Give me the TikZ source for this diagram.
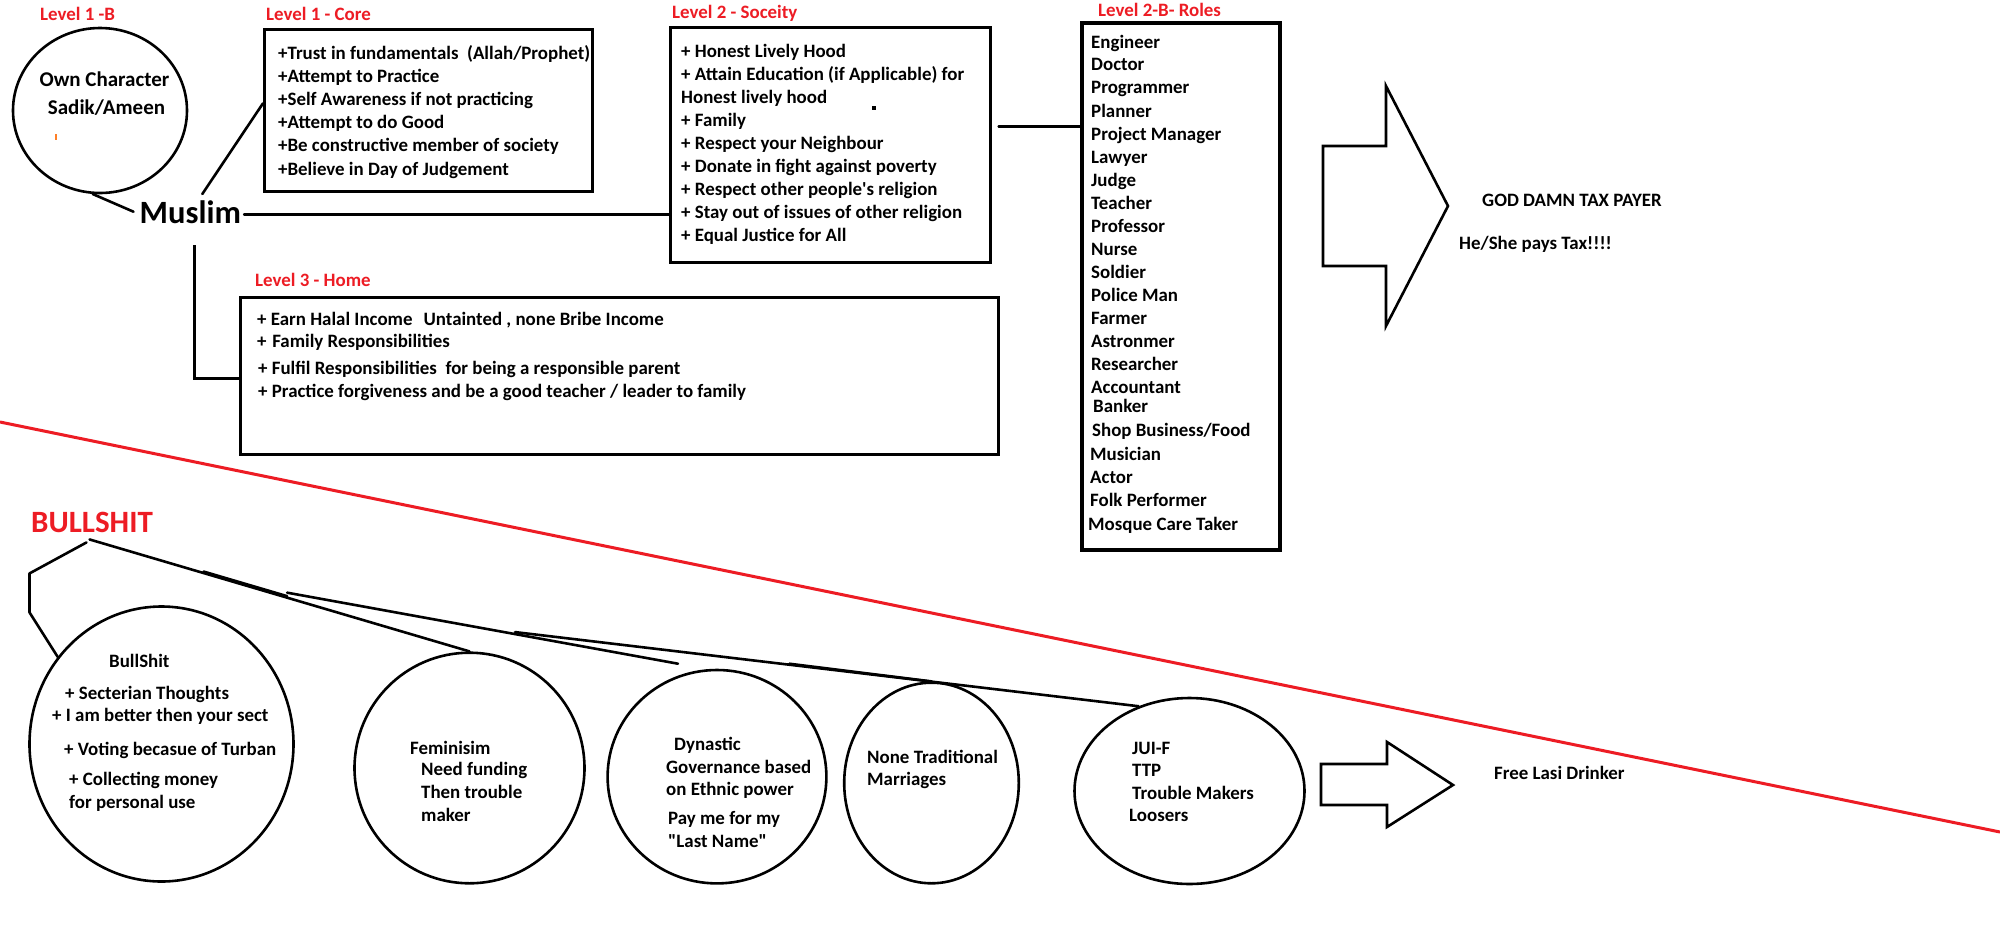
\documentclass[tikz,border=0pt]{standalone}
\usepackage{fontspec}
\setmainfont{Carlito}[Ligatures=TeXOff]
\usetikzlibrary{shapes.geometric,calc}
\definecolor{pred}{RGB}{237,28,36}
\definecolor{porange}{RGB}{255,127,39}
\newcommand\myfs{\fontsize{18.9}{22}\selectfont\bfseries}
\begin{document}
\begin{tikzpicture}[x=1pt,y=-1pt,
  ln/.style={line width=2.6pt,line cap=round,line join=round},
  box/.style={draw,line width=2.6pt,rectangle,inner sep=0pt,anchor=north west},
  txt/.style={anchor=base west,inner sep=0pt,font=\myfs},
  ctxt/.style={anchor=base,inner sep=0pt,font=\fontsize{21}{25}\selectfont\bfseries},
  lvl/.style={txt,text=pred},
  oval/.style={draw,ellipse,line width=2.6pt,inner sep=0pt}]
\useasboundingbox (0,0) rectangle (2000,938);
\fill[white] (0,0) rectangle (2000,938);

% red divider
\draw[pred,line width=3pt] (0,422) -- (2000,832);

% ---------- Level 1 -B ----------
\node[lvl] (lab1b) at (40,20) {Level 1 -B};
\node[oval,minimum width=174pt,minimum height=165pt] (own) at (100,110.5) {};
\node[ctxt] (own1) at (104.5,86) {Own Character};
\node[ctxt] (own2) at (106.5,114) {Sadik/Ameen};
\draw[porange,line width=1.5pt] (56,134) -- (56,140);

% ---------- Muslim ----------
\node[anchor=base west,inner sep=0pt,font=\fontsize{32.5}{38}\selectfont\bfseries] (muslim) at (139.5,223) {Muslim};

% ---------- Level 1 - Core ----------
\node[lvl] (labcore) at (266,20.5) {Level 1 - Core};
\node[box,minimum width=328pt,minimum height=162pt] (core) at (263,28) {};
\foreach \t [count=\i] in {{+Trust in fundamentals~ (Allah/Prophet)},{+Attempt to Practice},{+Self Awareness if not practicing},{+Attempt to do Good},{+Be constructive member of society},{+Believe in Day of Judgement}}
  \node[txt] (core\i) at (278,{59+23.2*(\i-1)}) {\t};

% ---------- Level 2 - Society ----------
\node[lvl] (labsoc) at (672,18) {Level 2 - Soceity};
\node[box,minimum width=320pt,minimum height=235pt] (society) at (669,26) {};
\foreach \t [count=\i] in {{+ Honest Lively Hood},{+ Attain Education (if Applicable) for},{Honest lively hood},{+ Family},{+ Respect your Neighbour},{+ Donate in fight against poverty},{+ Respect other people's religion},{+ Stay out of issues of other religion},{+ Equal Justice for All}}
  \node[txt] (soc\i) at (681,{57+23*(\i-1)}) {\t};
\fill (872,106) rectangle (876,110);

% ---------- Level 2-B- Roles ----------
\node[lvl] (labroles) at (1098,16) {Level 2-B- Roles};
\node[box,line width=3.6pt,minimum width=198pt,minimum height=527pt] (roles) at (1080,21) {};
\foreach \t/\x/\y [count=\i] in {Engineer/1091/48,Doctor/1091/70,Programmer/1091/93.5,Planner/1091/117,{Project Manager}/1091/140,Lawyer/1091/163,Judge/1091/186,Teacher/1091/209,Professor/1091/232,Nurse/1091/255,Soldier/1091/278,{Police Man}/1091/301,Farmer/1091/324,Astronmer/1091/347,Researcher/1091/370,Accountant/1091/393.5,Banker/1093/412,{Shop Business/Food}/1092/436,Musician/1090/460,Actor/1090/483,{Folk Performer}/1090/506,{Mosque Care Taker}/1088/530}
  \node[txt] (role\i) at (\x,\y) {\t};

% ---------- big arrow + tax payer ----------
\draw[ln,line join=miter] (1323,146) -- (1386,146) -- (1386,86) -- (1448,206) -- (1386,326) -- (1386,266) -- (1323,266) -- cycle;
\node[txt] (gd) at (1482,206) {GOD DAMN TAX PAYER};
\node[txt] (she) at (1459,249) {He/She pays Tax!!!!};

% ---------- Level 3 - Home ----------
\node[lvl] (lab3) at (255,286) {Level 3 - Home};
\node[box,minimum width=758pt,minimum height=157pt] (l3) at (239,296) {};
\node[txt] (h1) at (257,325) {+ Earn Halal Income\hspace{11pt}Untainted , none Bribe Income};
\node[txt] (h2) at (257,347) {+\hspace{5.7pt}Family Responsibilities};
\node[txt] (h3) at (258,374) {+ Fulfil Responsibilities~ for being a responsible parent};
\node[txt] (h4) at (258,397) {+ Practice forgiveness and be a good teacher / leader to family};

% ---------- connectors from Muslim ----------
\draw[ln] (own.265) -- ($(muslim.west)+(-6,0)$);
\draw[ln] ($(muslim.north)+(12,-6)$) -- ($(core.west)+(0,-7)$);
\coordinate (mE) at ($(muslim.east)+(3,3)$);
\draw[ln] (mE) -- (mE -| society.west);
\coordinate (sE) at ($(society.east)+(7,-18.5)$);
\draw[ln] (sE) -- (sE -| roles.west);
\coordinate (mS) at ($(muslim.south west)+(55,22)$);
\draw[ln,line cap=butt,line join=miter] (mS) |- ($(l3.west)+(0,2.5)$);

% ---------- BULLSHIT ----------
\node[anchor=base west,inner sep=0pt,font=\fontsize{31}{36}\selectfont\bfseries,text=pred] (bs) at (31,532) {BULLSHIT};

\node[oval,minimum width=264pt,minimum height=275pt] (c1) at (161.5,744) {};
\node[oval,minimum width=230pt,minimum height=230.6pt] (fem) at (469.5,768) {};
\node[oval,minimum width=218.8pt,minimum height=213.4pt] (dyn) at (717,776.7) {};
\node[oval,minimum width=174.6pt,minimum height=200.6pt] (nt) at (931.5,783) {};
\node[oval,minimum width=230pt,minimum height=186pt] (jui) at (1189.5,791) {};

\node[txt] (b1) at (109,667) {BullShit};
\node[txt] (b2) at (65,699) {+ Secterian Thoughts};
\node[txt] (b3) at (52,721) {+ I am better then your sect};
\node[txt] (b4) at (64,755) {+ Voting becasue of Turban};
\node[txt] (b5) at (69,785) {+ Collecting money};
\node[txt] (b6) at (69,808) {for personal use};

\node[txt] (f1) at (410,754) {Feminisim};
\node[txt] (f2) at (421,775) {Need funding};
\node[txt] (f3) at (421,798) {Then trouble};
\node[txt] (f4) at (421,821) {maker};

\node[txt] (d1) at (674,750) {Dynastic};
\node[txt] (d2) at (666,773) {Governance based};
\node[txt] (d3) at (666,795) {on Ethnic power};
\node[txt] (d4) at (668,824) {Pay me for my};
\node[txt] (d5) at (668,847) {"Last Name"};

\node[txt] (n1) at (867,763) {None Traditional};
\node[txt] (n2) at (867,785) {Marriages};

\node[txt] (j1) at (1132,754) {JUI-F};
\node[txt] (j2) at (1132,776) {TTP};
\node[txt] (j3) at (1132,799) {Trouble Makers};
\node[txt] (j4) at (1129,821) {Loosers};

% connectors from BULLSHIT
\draw[ln] ($(bs.south)+(-5.5,10)$) -- ++(-57,31) -- ++(0,39) -- (c1.140);
\coordinate (bA) at ($(bs.south)+(-2.5,7)$);
\draw[ln] (bA) -- (fem.north);
\draw[ln] ($(bA)!0.3!(fem.north)+(0,-1.5)$) -- ($(bA)!0.52!(fem.north)+(0,-1.5)$);
\coordinate (dynE) at ($(dyn.north)+(-39,-5)$);
\coordinate (bB) at ($(bA)!0.52!(fem.north)+(0,-5)$);
\draw[ln] (bB) -- (dynE);
\coordinate (bC) at ($(bB)!0.583!(dynE)+(0,-2)$);
\draw[ln] (bC) -- (jui.121);
\coordinate (bD) at ($(bC)!0.44!(jui.121)+(0,-1)$);
\draw[ln] (bD) -- (nt.north);

% small arrow + Free Lasi Drinker
\draw[ln,line join=miter] (1321,764) -- (1387,764) -- (1387,742) -- (1453,785) -- (1387,827) -- (1387,805) -- (1321,805) -- cycle;
\node[txt] (lasi) at (1494,779) {Free Lasi Drinker};
\end{tikzpicture}
\end{document}
